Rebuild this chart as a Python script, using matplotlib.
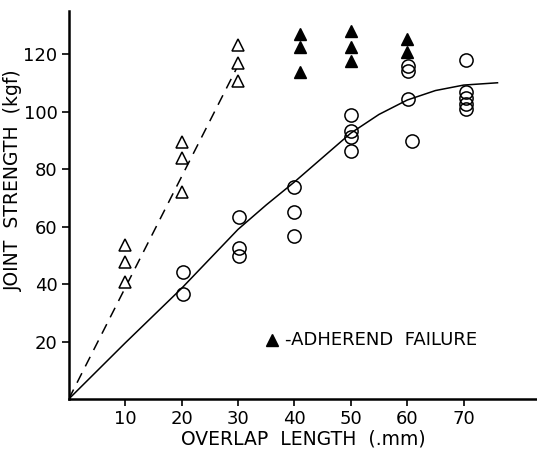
import matplotlib
matplotlib.use("Agg")
import matplotlib.pyplot as plt

plt.rcParams['font.family'] = ['DejaVu Sans']

# Open triangles (cohesive failure, dashed trend)
tri_x = [10, 10, 10, 20, 20, 20, 30, 30, 30]
tri_y = [53.5, 47.5, 40.8, 89.3, 83.8, 72.0, 123.0, 117.0, 110.6]

# Open circles
circ_x = [20, 20, 30, 30, 30, 40, 40, 40, 50, 50, 50, 50, 60, 60, 60, 60, 70, 70, 70, 70, 70]
circ_y = [44.2, 36.5, 63.3, 52.5, 49.7, 73.7, 65.0, 56.7, 98.8, 93.2, 91.2, 86.3,
          116.0, 114.0, 104.3, 89.7, 118.0, 106.8, 104.7, 102.6, 100.9]
circ_xoff = [0.3, 0.3, 0.1, 0.1, 0.1, 0.0, 0.0, 0.0, 0.1, 0.1, 0.1, 0.1,
             0.2, 0.2, 0.2, 0.8, 0.4, 0.4, 0.4, 0.4, 0.4]

# Filled triangles (adherend failure)
ftri_x = [41, 41, 41, 50, 50, 50, 60, 60]
ftri_y = [127.0, 122.4, 113.8, 128.0, 122.4, 117.6, 125.2, 120.7]

# Dashed line
dash_x = [0, 30]
dash_y = [0, 116]

# Solid curve
curve_x = [0, 10, 20, 30, 35, 40, 45, 50, 55, 60, 65, 70, 76]
curve_y = [0, 19.5, 38.5, 59.0, 67.5, 75.5, 84.0, 92.5, 99.0, 104.0, 107.3, 109.2, 110.0]

x_ticks = [10, 20, 30, 40, 50, 60, 70]
y_ticks = [20, 40, 60, 80, 100, 120]

fig = plt.figure(figsize=(5.37, 4.54), dpi=100)
ax = fig.add_axes([0.128, 0.121, 0.872, 0.855])

ax.plot(dash_x, dash_y, color='black', lw=1.1, ls=(0, (7, 5)))
ax.plot(curve_x, curve_y, color='black', lw=1.1)

ax.plot(tri_x, tri_y, ls='none', marker='^', ms=9, mfc='white', mec='black', mew=1.1)
ax.plot([x + o for x, o in zip(circ_x, circ_xoff)], circ_y, ls='none', marker='o', ms=9.5,
        mfc='none', mec='black', mew=1.1)
ax.plot(ftri_x, ftri_y, ls='none', marker='^', ms=9, mfc='black', mec='black', mew=1)

ax.plot([36], [20.5], ls='none', marker='^', ms=9, mfc='black', mec='black')
ax.text(38.3, 20.5, '-ADHEREND  FAILURE', fontsize=13, va='center', ha='left')

ax.set_xlim(0, 83)
ax.set_ylim(0, 135)
ax.set_xticks(x_ticks)
ax.set_yticks(y_ticks)
ax.tick_params(axis='both', direction='out', length=5, width=1.2, labelsize=13, pad=3)
for s in ['top', 'right']:
    ax.spines[s].set_visible(False)
for s in ['left', 'bottom']:
    ax.spines[s].set_linewidth(1.8)

ax.set_xlabel('OVERLAP  LENGTH  (.mm)', fontsize=13.5, labelpad=1)
ax.set_ylabel('JOINT  STRENGTH  (kgf)', fontsize=13.5)
ax.yaxis.set_label_coords(-0.098, 0.565)

fig.savefig('out.png', dpi=100)
